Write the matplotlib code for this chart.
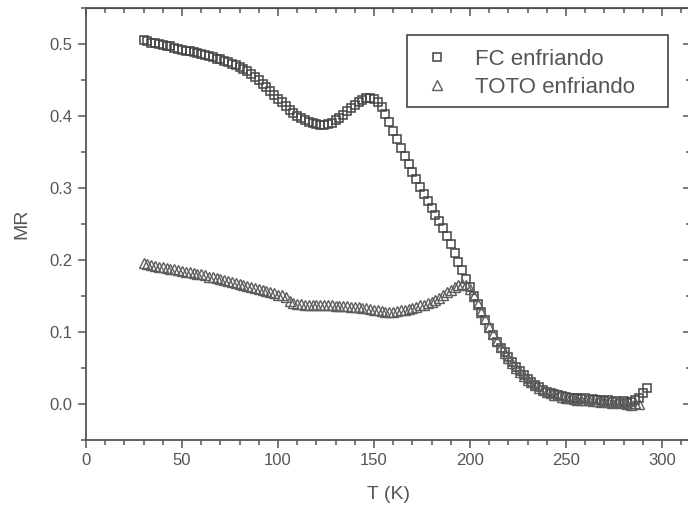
"""
MR vs T for FC and TOTO cooling runs (recreated from a scanned figure).
"""

import matplotlib
matplotlib.use("Agg")
import matplotlib.pyplot as plt
from matplotlib.patches import Rectangle
from matplotlib.ticker import MultipleLocator

plt.rcParams["font.family"] = ["Liberation Sans", "DejaVu Sans"]

# FC enfriando (squares)
t_fc = [30, 32, 34, 36, 38, 40, 42, 44, 46, 48, 50, 52, 54, 56, 58, 60,
        62, 64, 66, 68, 70, 72, 74, 76, 78, 80, 82, 84, 86, 88, 90, 92,
        94, 96, 98, 100, 102, 104, 106, 108, 110, 112, 114, 116, 118, 120,
        122, 124, 126, 128, 130, 132, 134, 136, 138, 140, 142, 144, 146,
        148, 150, 152, 154, 156, 158, 160, 162, 164, 166, 168, 170, 172,
        174, 176, 178, 180, 182, 184, 186, 188, 190, 192, 194, 196, 198,
        200, 202, 204, 206, 208, 210, 212, 214, 216, 218, 220, 222, 224,
        226, 228, 230, 232, 234, 236, 238, 240, 242, 244, 246, 248, 250,
        252, 254, 256, 258, 260, 262, 264, 266, 268, 270, 272, 274, 276,
        278, 280, 282, 284, 286, 288, 290, 292]
mr_fc = [0.506, 0.504, 0.502, 0.501, 0.500, 0.499, 0.498, 0.497, 0.495,
         0.494, 0.492, 0.491, 0.490, 0.489, 0.488, 0.487, 0.485, 0.484,
         0.482, 0.480, 0.479, 0.477, 0.475, 0.473, 0.471, 0.469, 0.466,
         0.463, 0.459, 0.455, 0.450, 0.445, 0.440, 0.435, 0.429, 0.424,
         0.419, 0.414, 0.409, 0.404, 0.400, 0.397, 0.394, 0.392, 0.390,
         0.389, 0.388, 0.388, 0.389, 0.391, 0.394, 0.398, 0.402, 0.407,
         0.412, 0.416, 0.420, 0.423, 0.425, 0.425, 0.424, 0.420, 0.413,
         0.403, 0.392, 0.380, 0.368, 0.356, 0.345, 0.334, 0.323, 0.312,
         0.302, 0.292, 0.282, 0.272, 0.262, 0.255, 0.245, 0.234, 0.222,
         0.210, 0.198, 0.186, 0.174, 0.162, 0.150, 0.139, 0.128, 0.117,
         0.106, 0.096, 0.086, 0.078, 0.072, 0.066, 0.059, 0.052, 0.046,
         0.040, 0.035, 0.031, 0.027, 0.023, 0.020, 0.017, 0.015, 0.014,
         0.013, 0.011, 0.010, 0.009, 0.009, 0.008, 0.007, 0.008, 0.006,
         0.007, 0.005, 0.006, 0.004, 0.005, 0.003, 0.004, 0.002, 0.004,
         0.001, 0.003, 0.006, 0.009, 0.015, 0.022]

# TOTO enfriando (triangles)
t_toto = [30, 32, 34, 36, 38, 40, 42, 44, 46, 48, 50, 52, 54, 56, 58, 60,
          62, 64, 66, 68, 70, 72, 74, 76, 78, 80, 82, 84, 86, 88, 90, 92,
          94, 96, 98, 100, 102, 104, 106, 108, 110, 112, 114, 116, 118,
          120, 122, 124, 126, 128, 130, 132, 134, 136, 138, 140, 142, 144,
          146, 148, 150, 152, 154, 156, 158, 160, 162, 164, 166, 168, 170,
          172, 174, 176, 178, 180, 182, 184, 186, 188, 190, 192, 194, 196,
          198, 200, 202, 204, 206, 208, 210, 212, 214, 216, 218, 220, 222,
          224, 226, 228, 230, 232, 234, 236, 238, 240, 242, 244, 246, 248,
          250, 252, 254, 256, 258, 260, 262, 264, 266, 268, 270, 272, 274,
          276, 278, 280, 282, 284, 286, 288]
mr_toto = [0.196, 0.194, 0.193, 0.192, 0.191, 0.190, 0.189, 0.188, 0.187,
           0.186, 0.185, 0.184, 0.183, 0.182, 0.181, 0.180, 0.179, 0.177,
           0.176, 0.175, 0.174, 0.173, 0.171, 0.170, 0.168, 0.167, 0.166,
           0.164, 0.163, 0.161, 0.160, 0.159, 0.157, 0.156, 0.154, 0.152,
           0.151, 0.149, 0.143, 0.140, 0.139, 0.139, 0.138, 0.138, 0.138,
           0.138, 0.137, 0.137, 0.137, 0.137, 0.136, 0.136, 0.136, 0.136,
           0.135, 0.135, 0.135, 0.134, 0.133, 0.132, 0.131, 0.130, 0.129,
           0.128, 0.128, 0.128, 0.129, 0.130, 0.131, 0.132, 0.134, 0.135,
           0.137, 0.138, 0.140, 0.142, 0.145, 0.148, 0.151, 0.155, 0.159,
           0.163, 0.166, 0.167, 0.166, 0.160, 0.150, 0.139, 0.128, 0.118,
           0.107, 0.097, 0.088, 0.079, 0.071, 0.064, 0.057, 0.050, 0.044,
           0.039, 0.034, 0.030, 0.026, 0.022, 0.020, 0.017, 0.015, 0.013,
           0.012, 0.010, 0.009, 0.008, 0.007, 0.006, 0.006, 0.005, 0.005,
           0.004, 0.004, 0.003, 0.004, 0.003, 0.002, 0.003, 0.001, 0.002,
           0.000, -0.001, 0.001, 0.000]

ink = "#555555"

fig = plt.figure(figsize=(6.88, 5.14), dpi=100)
ax = fig.add_axes([0.125, 0.144, 0.879, 0.840])

ax.plot(t_fc, mr_fc, ls="none", marker="s", ms=5.5, mfc="none",
        mec="#444444", mew=1.1, label="FC enfriando")
ax.plot(t_toto, mr_toto, ls="none", marker="^", ms=7.5, mfc="none",
        mec="#5e5e5e", mew=1.0, label="TOTO enfriando")

ax.set_xlim(0, 315)
ax.set_ylim(-0.05, 0.55)
ax.xaxis.set_major_locator(MultipleLocator(50))
ax.xaxis.set_minor_locator(MultipleLocator(10))
ax.yaxis.set_major_locator(MultipleLocator(0.1))
ax.yaxis.set_minor_locator(MultipleLocator(0.05))
ax.yaxis.set_major_formatter(plt.FormatStrFormatter("%.1f"))

for s in ax.spines.values():
    s.set_color(ink)
    s.set_linewidth(1.3)

ax.tick_params(which="both", direction="out", colors=ink, labelsize=12,
               width=1.1)
ax.tick_params(which="major", length=6)
ax.tick_params(which="minor", length=3.5)

# mirrored axes with inward ticks on top and right
top = ax.secondary_xaxis("top")
top.xaxis.set_major_locator(MultipleLocator(50))
top.xaxis.set_minor_locator(MultipleLocator(10))
top.tick_params(which="both", direction="in", colors=ink, labeltop=False,
                width=1.1)
top.tick_params(which="major", length=6)
top.tick_params(which="minor", length=3.5)
right = ax.secondary_yaxis("right")
right.yaxis.set_major_locator(MultipleLocator(0.1))
right.yaxis.set_minor_locator(MultipleLocator(0.05))
right.tick_params(which="both", direction="in", colors=ink, labelright=False,
                  width=1.1)
right.tick_params(which="major", length=6)
right.tick_params(which="minor", length=3.5)

ax.set_xlabel("T (K)", fontsize=14, color=ink, labelpad=13)
ax.set_ylabel("MR", fontsize=14, color=ink, labelpad=14)

# legend entries without frame, box drawn separately
leg = ax.legend(loc="upper left", bbox_to_anchor=(0.5636, 0.906),
                borderaxespad=0, borderpad=0, fontsize=16, frameon=False,
                handletextpad=1.26, labelspacing=0.33, handlelength=0.9,
                markerscale=1.05)
for txt in leg.get_texts():
    txt.set_color(ink)
ax.add_patch(Rectangle((0.5306, 0.7708), 0.4314, 0.1667, transform=ax.transAxes,
                       fill=False, edgecolor="#444444", linewidth=1.2))

plt.savefig("out.png", dpi=100)
